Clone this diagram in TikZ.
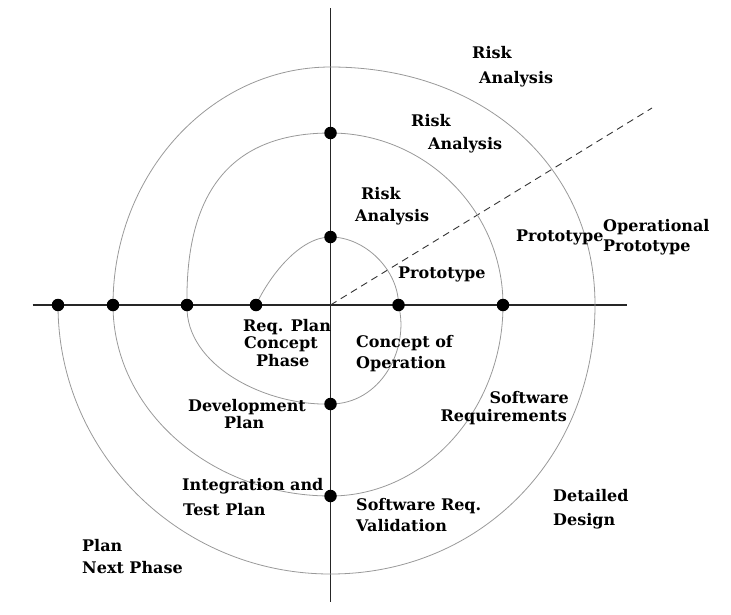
\documentclass[tikz,border=0pt]{standalone}
\usepackage{fontspec}
\setmainfont{DejaVu Serif}
\begin{document}
\begin{tikzpicture}[x=1pt,y=-1pt,
  axis/.style={draw=black!85,line width=1.2pt},
  spiral/.style={draw=black!40,line width=0.8pt},
  dashline/.style={draw=black!80,line width=0.9pt,dash pattern=on 7pt off 5pt},
  dot/.style={circle,fill=black,inner sep=0pt,minimum size=12.5pt},
  lbl/.style={inner sep=0pt,font=\fontsize{16}{19}\selectfont\bfseries}]
\useasboundingbox (0,0) rectangle (731,614);
% axes
\coordinate (o) at (330.5,305);
\coordinate (xl) at (32.5,305);
\coordinate (xr) at (627,305);
\coordinate (yt) at (330.5,8);
\coordinate (yb) at (330.5,602);
\coordinate (de) at (652,108);
\draw[axis] (xl) -- (xr);
\draw[axis] (yt) -- (yb);
\draw[dashline] (o) -- (de);
% spiral points
\coordinate (s0) at (256,305);
\coordinate (s1) at (330.5,237);
\coordinate (s2) at (398.5,305);
\coordinate (s3) at (330.5,404);
\coordinate (s4) at (187,305);
\coordinate (s5) at (330.5,133);
\coordinate (s6) at (503,305);
\coordinate (s7) at (330.5,496);
\coordinate (s8) at (113,305);
\coordinate (s9) at (330.5,67);
\coordinate (s10) at (595,305);
\coordinate (s11) at (330.5,574);
\coordinate (s12) at (58,305);
\draw[spiral] (s0) .. controls (270,275) and (300,237) .. (s1)
  .. controls (365,237) and (398.5,270) .. (s2)
  .. controls (410,350) and (380,404) .. (s3)
  .. controls (265,406) and (185,365) .. (s4)
  .. controls (185,185) and (237,133) .. (s5)
  .. controls (425,133) and (503,210) .. (s6)
  .. controls (503,410) and (425,496) .. (s7)
  .. controls (211,496) and (113,410) .. (s8)
  .. controls (113,174) and (211,67) .. (s9)
  .. controls (484,67) and (595,167) .. (s10)
  .. controls (595,458) and (480,574) .. (s11)
  .. controls (180,574) and (58,453) .. (s12);
% dots
\node[dot] (h1) at (s12) {};
\node[dot] (h2) at (s8) {};
\node[dot] (h3) at (s4) {};
\node[dot] (h4) at (s0) {};
\node[dot] (h5) at (s2) {};
\node[dot] (h6) at (s6) {};
\node[dot] (v1) at (s5) {};
\node[dot] (v2) at (s1) {};
\node[dot] (v3) at (s3) {};
\node[dot] (v4) at (s7) {};
% labels
\node[lbl,anchor=base west] (ra1) at (472,58.5) {Risk};
\node[lbl,anchor=base west] (ra2) at (479,83.5) {Analysis};
\node[lbl,anchor=base west] (rb1) at (411,126.5) {Risk};
\node[lbl,anchor=base west] (rb2) at (428,149.5) {Analysis};
\node[lbl,anchor=base west] (rc1) at (361,199.5) {Risk};
\node[lbl,anchor=base west] (rc2) at (355,221.5) {Analysis};
\node[lbl,anchor=base west] (p1) at (398,278.5) {Prototype};
\node[lbl,anchor=base west] (p2) at (516,241.5) {Prototype};
\node[lbl,anchor=base west] (op1) at (603,231.5) {Operational};
\node[lbl,anchor=base west] (op2) at (603,251.5) {Prototype};
\node[lbl,anchor=base west] (rq1) at (243,331.5) {Req. Plan};
\node[lbl,anchor=base west] (rq2) at (244,348.5) {Concept};
\node[lbl,anchor=base west] (rq3) at (256,366.5) {Phase};
\node[lbl,anchor=base west] (co1) at (356,347.5) {Concept of};
\node[lbl,anchor=base west] (co2) at (356,368.5) {Operation};
\node[lbl,anchor=base west] (dp1) at (188,411.5) {Development};
\node[lbl,anchor=base west] (dp2) at (224,428.5) {Plan};
\node[lbl,anchor=base west] (it1) at (182,490.5) {Integration and};
\node[lbl,anchor=base west] (it2) at (183,515.5) {Test Plan};
\node[lbl,anchor=base west] (sv1) at (356,510.5) {Software Req.};
\node[lbl,anchor=base west] (sv2) at (356,531.5) {Validation};
\node[lbl,anchor=base east] (sr1) at (569,403.5) {Software};
\node[lbl,anchor=base east] (sr2) at (567,421.5) {Requirements};
\node[lbl,anchor=base west] (dd1) at (553,501.5) {Detailed};
\node[lbl,anchor=base west] (dd2) at (553,525.5) {Design};
\node[lbl,anchor=base west] (pn1) at (82,551.5) {Plan};
\node[lbl,anchor=base west] (pn2) at (82,573.5) {Next Phase};
\end{tikzpicture}
\end{document}
